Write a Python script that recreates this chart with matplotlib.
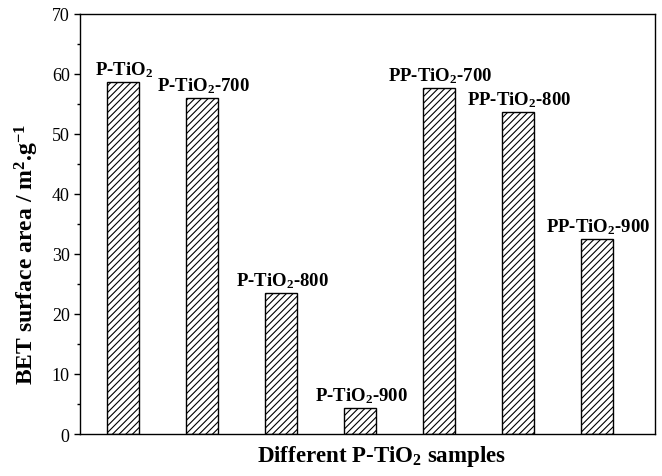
import matplotlib
matplotlib.use("Agg")
import matplotlib.pyplot as plt
import numpy as np

samples = ["P-TiO$_2$", "P-TiO$_2$-700", "P-TiO$_2$-800", "P-TiO$_2$-900",
           "PP-TiO$_2$-700", "PP-TiO$_2$-800", "PP-TiO$_2$-900"]
surface_area = [58.7, 56.0, 23.5, 4.3, 57.6, 53.6, 32.5]
y_ticks = [0, 10, 20, 30, 40, 50, 60, 70]

plt.rcParams.update({
    "font.family": "Liberation Serif",
    "mathtext.fontset": "custom",
    "mathtext.rm": "Liberation Serif:bold",
    "mathtext.it": "Liberation Serif:bold",
    "mathtext.bf": "Liberation Serif:bold",
    "hatch.linewidth": 0.8,
})

fig = plt.figure(figsize=(6.62, 4.77), dpi=100)
ax = fig.add_axes([0.121, 0.088, 0.868, 0.881])

x = np.arange(1, len(samples) + 1)
ax.bar(x, surface_area, width=0.405, color="white", edgecolor="black",
       linewidth=1.0, hatch="/////")

for xi, v, lab in zip(x, surface_area, samples):
    ax.annotate(lab, (xi, v), xytext=(1, 2), textcoords="offset points",
                ha="center", va="bottom", fontsize=13.5, fontweight="bold")

ax.set_xlim(0.456, 7.73)
ax.set_ylim(0, 70)
ax.set_xticks([])
ax.set_yticks(y_ticks)
ax.set_yticks(np.arange(5, 70, 10), minor=True)
ax.tick_params(axis="y", which="major", direction="out", length=4, width=1,
               labelsize=13)
ax.tick_params(axis="y", which="minor", direction="out", length=2.5, width=1)
for s in ax.spines.values():
    s.set_linewidth(1.0)

ax.set_ylabel("BET surface area / m$^2$.g$^{-1}$", fontsize=17,
              fontweight="bold")
ax.yaxis.set_label_coords(-0.068, 0.43)
ax.set_xlabel("Different P-TiO$_2$ samples", fontsize=16.5, fontweight="bold")
ax.xaxis.set_label_coords(0.524, -0.022)

fig.savefig("out.png", dpi=100)
